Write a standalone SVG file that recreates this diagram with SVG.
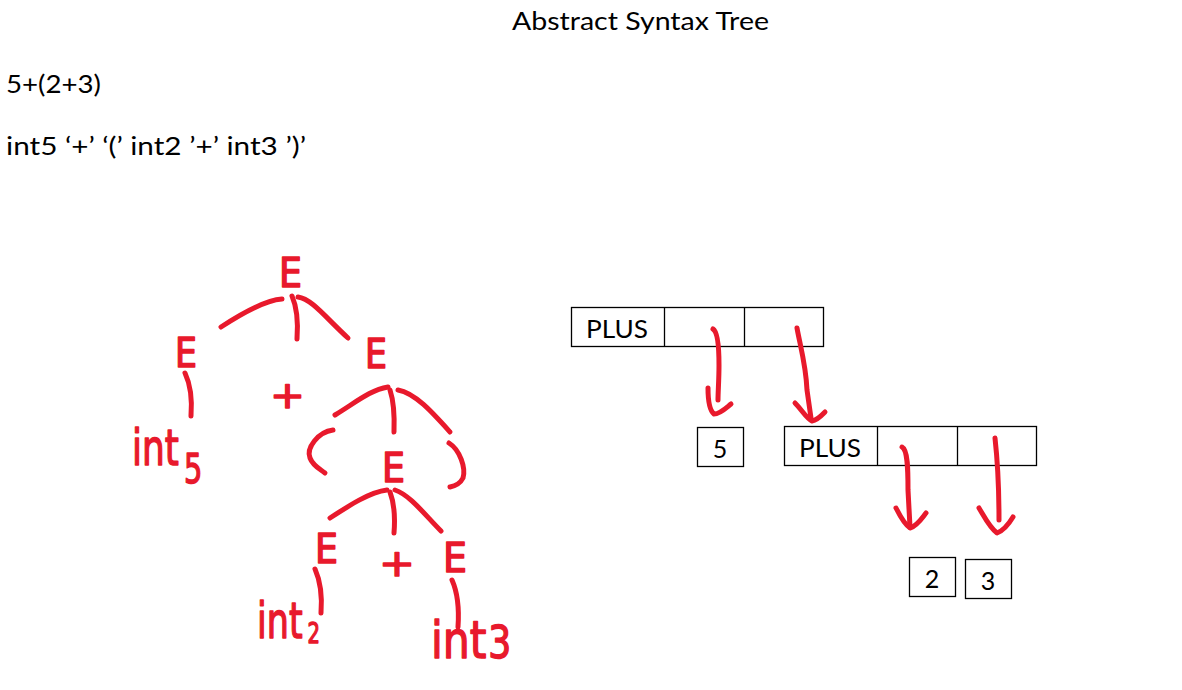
<svg xmlns="http://www.w3.org/2000/svg" width="1182" height="690" viewBox="0 0 1182 690">
<style>
.t{font-family:Lato,"Liberation Sans",sans-serif;font-size:25px;fill:#000}
.box{fill:#fff;stroke:#000;stroke-width:1.3}
.ink{fill:none;stroke:#E8192C;stroke-width:5;stroke-linecap:round;stroke-linejoin:round}
.h{font-family:"DejaVu Sans",sans-serif;fill:#E8192C;stroke:#E8192C;stroke-width:1.5;stroke-linejoin:round}
</style>
<rect width="1182" height="690" fill="#fff"/>
<g id="header">
<text class="t" x="512" y="30" textLength="257" lengthAdjust="spacingAndGlyphs">Abstract Syntax Tree</text>
<text class="t" x="6" y="93" textLength="95" lengthAdjust="spacingAndGlyphs">5+(2+3)</text>
<text class="t" x="6" y="155" textLength="300" lengthAdjust="spacingAndGlyphs">int5 ‘+’ ‘(’ int2 ’+’ int3 ’)’</text>
</g>
<g id="parse-tree">
<g id="pt-root"><text class="h" x="279" y="287" font-size="40" textLength="23" lengthAdjust="spacingAndGlyphs">E</text></g>
<g id="pt-left"><text class="h" x="175" y="367" font-size="40" textLength="22" lengthAdjust="spacingAndGlyphs">E</text></g>
<g id="pt-plus1"><text class="h" x="270" y="408" font-size="38" textLength="35" lengthAdjust="spacingAndGlyphs">+</text></g>
<g id="pt-right"><text class="h" x="365" y="368" font-size="40" textLength="22" lengthAdjust="spacingAndGlyphs">E</text></g>
<g id="pt-int5"><text class="h" transform="translate(132,465) scale(0.72,1)" font-size="50">int<tspan dx="7" dy="18" font-size="40">5</tspan></text></g>
<g id="pt-lparen"><path class="ink" d="M333,430 C318,432 306,448 310,458 C313,466 320,469 325,473"/></g>
<g id="pt-mid"><text class="h" x="382" y="482" font-size="40" textLength="23" lengthAdjust="spacingAndGlyphs">E</text></g>
<g id="pt-rparen"><path class="ink" d="M449,443 C460,450 466,468 463,478 C460,484 455,486 450,487"/></g>
<g id="pt-ll"><text class="h" x="315" y="563" font-size="40" textLength="23" lengthAdjust="spacingAndGlyphs">E</text></g>
<g id="pt-plus2"><text class="h" x="379" y="576" font-size="38" textLength="36" lengthAdjust="spacingAndGlyphs">+</text></g>
<g id="pt-lr"><text class="h" x="443" y="572" font-size="40" textLength="24" lengthAdjust="spacingAndGlyphs">E</text></g>
<g id="pt-int2"><text class="h" transform="translate(257,638) scale(0.7,1)" font-size="50">int<tspan dx="7" dy="5" font-size="28">2</tspan></text></g>
<g id="pt-int3"><text class="h" transform="translate(431,658) scale(0.82,1)" font-size="52">int<tspan dx="2" font-size="44">3</tspan></text></g>
</g>
<g id="ast">
<g id="plus1"><rect class="box" x="571.5" y="307.5" width="252" height="39"/><line class="box" x1="664.5" y1="307.5" x2="664.5" y2="346.5"/><line class="box" x1="744.5" y1="307.5" x2="744.5" y2="346.5"/><text class="t" x="586" y="338" textLength="62" lengthAdjust="spacingAndGlyphs">PLUS</text></g>
<g id="five"><rect class="box" x="697.5" y="427.5" width="46" height="39"/><text class="t" x="720" y="458" text-anchor="middle">5</text></g>
<g id="plus2"><rect class="box" x="784.5" y="426.5" width="252" height="39"/><line class="box" x1="877.5" y1="426.5" x2="877.5" y2="465.5"/><line class="box" x1="957.5" y1="426.5" x2="957.5" y2="465.5"/><text class="t" x="799" y="457" textLength="62" lengthAdjust="spacingAndGlyphs">PLUS</text></g>
<g id="two"><rect class="box" x="909.5" y="557.5" width="46" height="39"/><text class="t" x="932" y="588" text-anchor="middle">2</text></g>
<g id="three"><rect class="box" x="965.5" y="559.5" width="46" height="39"/><text class="t" x="988" y="590" text-anchor="middle">3</text></g>
</g>
<g id="connectors">
<path class="ink" d="M282,299 C268,300 250,308 221,327"/>
<path class="ink" d="M292,296 Q299,312 297,339"/>
<path class="ink" d="M298,297 C312,299 326,318 348,338"/>
<path class="ink" d="M185,373 Q193,390 191,416"/>
<path class="ink" d="M388,387 C370,390 355,403 335,415"/>
<path class="ink" d="M390,390 Q395,405 394,432"/>
<path class="ink" d="M398,390 C415,393 432,412 450,432"/>
<path class="ink" d="M387,490 C370,492 350,505 330,518"/>
<path class="ink" d="M390,492 Q396,508 394,533"/>
<path class="ink" d="M395,490 C410,495 425,515 441,531"/>
<path class="ink" d="M315,569 Q323,587 321,613"/>
<path class="ink" d="M452,580 Q460,598 458,627"/>
<path class="ink" d="M713,329 C718,332 719,350 719,365 C719,380 718,392 718,400"/>
<path class="ink" d="M708,388 C708,400 709,410 714,414 C720,414 726,408 731,404"/>
<path class="ink" d="M797,328 C800,345 806,365 807,390 L811,418"/>
<path class="ink" d="M795,403 C802,410 806,418 812,421 C818,420 822,415 825,412"/>
<path class="ink" d="M902,447 C908,450 908,470 908,490 L910,527"/>
<path class="ink" d="M896,508 C900,516 904,524 910,528 C917,526 922,518 926,513"/>
<path class="ink" d="M995,438 C998,465 999,495 999,520"/>
<path class="ink" d="M979,508 C985,518 990,528 997,533 C1005,530 1010,522 1013,517"/>
</g>
</svg>
